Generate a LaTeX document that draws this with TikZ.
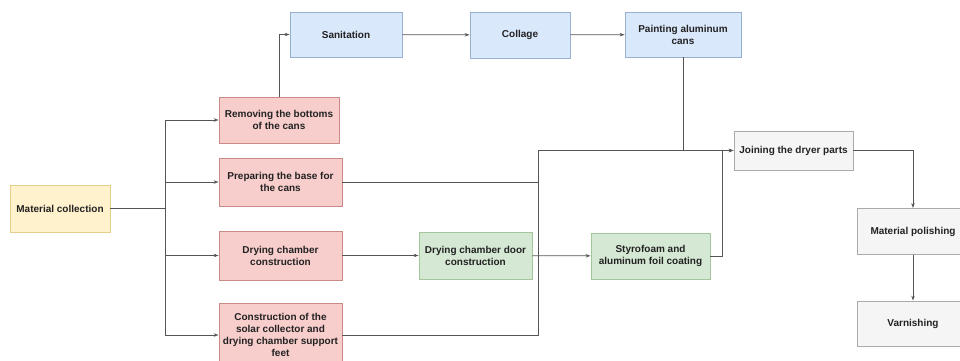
\documentclass[tikz,border=0pt]{standalone}
\usepackage{fontspec}
\setmainfont{Liberation Sans}
\usetikzlibrary{arrows.meta}
\definecolor{ylfill}{HTML}{FFF2CC}\definecolor{yldraw}{HTML}{E3CE8E}
\definecolor{rdfill}{HTML}{F8CECC}\definecolor{rddraw}{HTML}{C98A88}
\definecolor{blfill}{HTML}{DAE8FC}\definecolor{bldraw}{HTML}{9AB0D0}
\definecolor{grfill}{HTML}{D5E8D4}\definecolor{grdraw}{HTML}{A3C79A}
\definecolor{gyfill}{HTML}{F5F5F5}\definecolor{gydraw}{HTML}{AAAAAA}
\definecolor{linec}{HTML}{555555}
\definecolor{txt}{HTML}{222222}
\tikzset{
  box/.style={rectangle, draw, line width=0.8pt, align=center, inner sep=1pt,
    font=\fontsize{10}{12}\selectfont\bfseries, text=txt},
  ybox/.style={box, fill=ylfill, draw=yldraw},
  rbox/.style={box, fill=rdfill, draw=rddraw},
  bbox/.style={box, fill=blfill, draw=bldraw},
  gbox/.style={box, fill=grfill, draw=grdraw},
  gybox/.style={box, fill=gyfill, draw=gydraw},
  conn/.style={draw=linec, line width=0.8pt},
  arr/.style={conn, -{Stealth[length=5pt,width=3.5pt]}}
}
\begin{document}
\begin{tikzpicture}[x=1pt,y=-1pt]
\useasboundingbox (0,0) rectangle (960,361);
\node[ybox, minimum width=100pt, minimum height=47pt] (mc) at (60,208.5) {Material collection};
\node[rbox, minimum width=120pt, minimum height=46pt] (rb) at (279,120) {Removing the bottoms\\of the cans};
\node[rbox, minimum width=123pt, minimum height=48pt] (pb) at (280.5,182) {Preparing the base for\\the cans};
\node[rbox, minimum width=123pt, minimum height=49pt] (dc) at (280.5,255.5) {Drying chamber\\construction};
\node[rbox, minimum width=123pt, minimum height=64pt] (cs) at (280.5,335) {Construction of the\\solar collector and\\drying chamber support\\feet};
\node[bbox, minimum width=112pt, minimum height=45pt] (san) at (346,34.5) {Sanitation};
\node[bbox, minimum width=100pt, minimum height=46pt] (col) at (520,35) {Collage};
\node[bbox, minimum width=116pt, minimum height=45pt] (pac) at (683,34.5) {Painting aluminum\\cans};
\node[gbox, minimum width=113pt, minimum height=47pt] (door) at (475.5,255.5) {Drying chamber door\\construction};
\node[gbox, minimum width=119pt, minimum height=46pt] (sty) at (650.5,256) {Styrofoam and\\aluminum foil coating};
\node[gybox, minimum width=119pt, minimum height=39pt] (jd) at (793.5,150.5) {Joining the dryer parts};
\node[gybox, minimum width=112pt, minimum height=46pt] (mp) at (913,231.5) {Material polishing};
\node[gybox, minimum width=112pt, minimum height=45pt] (var) at (913,323.5) {Varnishing};
\coordinate (bus) at (165,208.5);
\coordinate (j1) at (538,150.5);
\draw[conn] (mc.east) -- (bus);
\draw[arr] (bus) |- (rb.west);
\draw[arr] (bus) |- (pb.west);
\draw[arr] (bus) |- (dc.west);
\draw[arr] (bus) |- (cs.west);
\draw[arr] (rb.north) |- (san.west);
\draw[arr] (san) -- (col);
\draw[arr] (col) -- (pac);
\draw[conn] (pb.east) -| (j1);
\draw[conn] (cs.east) -| (j1);
\draw[arr] (j1) -- (jd.west);
\draw[conn] (pac.south) -- (pac.south |- jd.west);
\draw[arr] (dc) -- (door);
\draw[arr] (door) -- (sty);
\draw[arr] (sty.east) -- ++(12,0) |- (jd.west);
\draw[arr] (jd.east) -| (mp.north);
\draw[arr] (mp) -- (var);
\end{tikzpicture}
\end{document}
